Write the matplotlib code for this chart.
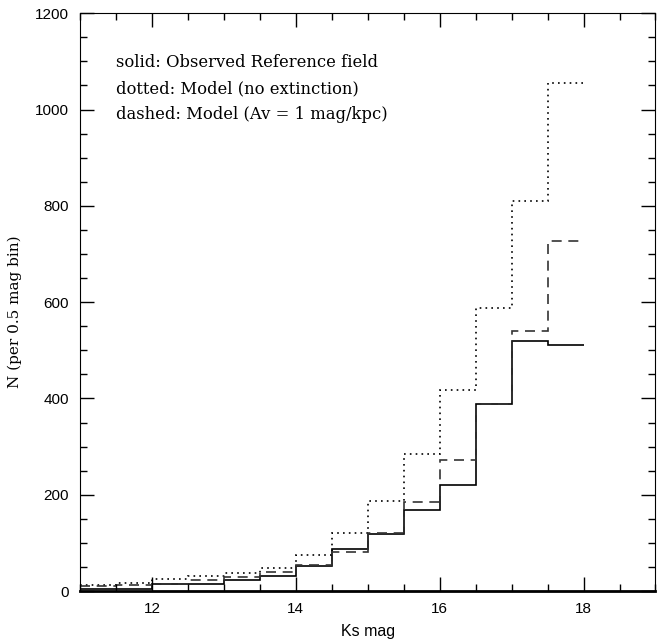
import matplotlib
matplotlib.use('Agg')
import matplotlib.pyplot as plt
from matplotlib.ticker import MultipleLocator

# bin edges (0.5 mag bins) and counts per bin
edges = [11.0, 11.5, 12.0, 12.5, 13.0, 13.5, 14.0, 14.5, 15.0, 15.5, 16.0, 16.5, 17.0, 17.5, 18.0]
observed = [5, 4, 15, 14, 22, 32, 51, 88, 119, 168, 220, 388, 520, 511]
model_noext = [12, 17, 24, 32, 37, 48, 74, 120, 186, 284, 417, 587, 810, 1056]
model_av1 = [10, 12, 15, 22, 30, 40, 55, 82, 121, 184, 273, 388, 541, 726]

notes = ['solid: Observed Reference field',
         'dotted: Model (no extinction)',
         'dashed: Model (Av = 1 mag/kpc)']

plt.rcParams['font.family'] = ['Liberation Sans', 'DejaVu Sans']

fig = plt.figure(figsize=(6.57, 6.42), dpi=100)
ax = fig.add_axes([0.1218, 0.0794, 0.8759, 0.9])

ax.stairs(observed, edges, color='black', lw=1.2, baseline=None)
ax.stairs(model_noext, edges, color='black', lw=1.2, ls=(0, (1, 2.5)), baseline=None)
ax.stairs(model_av1, edges, color='#333333', lw=1.2, ls=(0, (6, 4)), baseline=None)

ax.set_xlim(11, 19)
ax.set_ylim(0, 1200)
ax.xaxis.set_major_locator(MultipleLocator(2))
ax.xaxis.set_minor_locator(MultipleLocator(0.5))
ax.yaxis.set_major_locator(MultipleLocator(200))
ax.yaxis.set_minor_locator(MultipleLocator(50))
ax.tick_params(which='both', direction='in', top=True, right=True, labelsize=11, pad=8)
ax.tick_params(which='major', length=10, width=1)
ax.tick_params(which='minor', length=5, width=1)
ax.spines['bottom'].set_linewidth(2)

for i, t in enumerate(notes):
    ax.text(0.0625, 0.914 - i * 0.045, t, transform=ax.transAxes,
            family='DejaVu Serif', fontsize=11.8, va='center', ha='left')

ax.set_xlabel('Ks mag', fontsize=11.5, labelpad=6)
ax.set_ylabel('N (per 0.5 mag bin)', family='DejaVu Serif', fontsize=11)
ax.yaxis.set_label_coords(-0.1, 0.483)

fig.savefig('out.png', dpi=100)
